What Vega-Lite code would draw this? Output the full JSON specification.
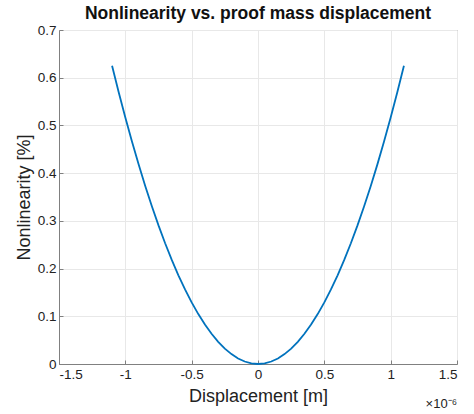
{
  "$schema": "https://vega.github.io/schema/vega-lite/v6.json",
  "width": 398,
  "height": 334,
  "autosize": "none",
  "padding": {"left": 59, "top": 30, "right": 17, "bottom": 50},
  "background": "white",
  "config": {
    "font": "Liberation Sans",
    "view": {"stroke": "#808080", "strokeWidth": 1},
    "axis": {
      "domainColor": "#808080",
      "tickColor": "#808080",
      "gridColor": "#e8e8e8",
      "labelColor": "#222222",
      "titleColor": "#222222",
      "labelFontSize": 13.5,
      "titleFontSize": 18,
      "titleFontWeight": "normal",
      "tickSize": -4,
      "labelPadding": 7
    }
  },
  "title": {
    "text": "Nonlinearity vs. proof mass displacement",
    "fontSize": 17.5,
    "fontWeight": "bold",
    "color": "#111111",
    "offset": 1
  },
  "data": {
    "values": [
      {"Displacement": -1.1, "Nonlinearity": 0.625},
      {"Displacement": -1.05, "Nonlinearity": 0.5694},
      {"Displacement": -1.0, "Nonlinearity": 0.5165},
      {"Displacement": -0.95, "Nonlinearity": 0.4661},
      {"Displacement": -0.9, "Nonlinearity": 0.4184},
      {"Displacement": -0.85, "Nonlinearity": 0.3732},
      {"Displacement": -0.8, "Nonlinearity": 0.3306},
      {"Displacement": -0.75, "Nonlinearity": 0.2905},
      {"Displacement": -0.7, "Nonlinearity": 0.2531},
      {"Displacement": -0.65, "Nonlinearity": 0.2182},
      {"Displacement": -0.6, "Nonlinearity": 0.1859},
      {"Displacement": -0.55, "Nonlinearity": 0.1562},
      {"Displacement": -0.5, "Nonlinearity": 0.1291},
      {"Displacement": -0.45, "Nonlinearity": 0.1046},
      {"Displacement": -0.4, "Nonlinearity": 0.0826},
      {"Displacement": -0.35, "Nonlinearity": 0.0633},
      {"Displacement": -0.3, "Nonlinearity": 0.0465},
      {"Displacement": -0.25, "Nonlinearity": 0.0323},
      {"Displacement": -0.2, "Nonlinearity": 0.0207},
      {"Displacement": -0.15, "Nonlinearity": 0.0116},
      {"Displacement": -0.1, "Nonlinearity": 0.0052},
      {"Displacement": -0.05, "Nonlinearity": 0.0013},
      {"Displacement": 0.0, "Nonlinearity": 0.0},
      {"Displacement": 0.05, "Nonlinearity": 0.0013},
      {"Displacement": 0.1, "Nonlinearity": 0.0052},
      {"Displacement": 0.15, "Nonlinearity": 0.0116},
      {"Displacement": 0.2, "Nonlinearity": 0.0207},
      {"Displacement": 0.25, "Nonlinearity": 0.0323},
      {"Displacement": 0.3, "Nonlinearity": 0.0465},
      {"Displacement": 0.35, "Nonlinearity": 0.0633},
      {"Displacement": 0.4, "Nonlinearity": 0.0826},
      {"Displacement": 0.45, "Nonlinearity": 0.1046},
      {"Displacement": 0.5, "Nonlinearity": 0.1291},
      {"Displacement": 0.55, "Nonlinearity": 0.1562},
      {"Displacement": 0.6, "Nonlinearity": 0.1859},
      {"Displacement": 0.65, "Nonlinearity": 0.2182},
      {"Displacement": 0.7, "Nonlinearity": 0.2531},
      {"Displacement": 0.75, "Nonlinearity": 0.2905},
      {"Displacement": 0.8, "Nonlinearity": 0.3306},
      {"Displacement": 0.85, "Nonlinearity": 0.3732},
      {"Displacement": 0.9, "Nonlinearity": 0.4184},
      {"Displacement": 0.95, "Nonlinearity": 0.4661},
      {"Displacement": 1.0, "Nonlinearity": 0.5165},
      {"Displacement": 1.05, "Nonlinearity": 0.5694},
      {"Displacement": 1.1, "Nonlinearity": 0.625}
    ]
  },
  "layer": [
    {
      "mark": {"type": "line", "color": "#0072BD", "strokeWidth": 1.8},
      "encoding": {
        "x": {
          "field": "Displacement",
          "type": "quantitative",
          "scale": {"domain": [-1.5, 1.5], "nice": false},
          "axis": {
            "values": [-1.5, -1, -0.5, 0, 0.5, 1, 1.5],
            "labelExpr": "replace(format(datum.value, '.1~f'), '\u2212', '-')",
            "title": "Displacement [m]",
            "titlePadding": 7
          }
        },
        "y": {
          "field": "Nonlinearity",
          "type": "quantitative",
          "scale": {"domain": [0, 0.7], "nice": false},
          "axis": {
            "values": [0, 0.1, 0.2, 0.3, 0.4, 0.5, 0.6, 0.7],
            "labelExpr": "format(datum.value, '.1~f')",
            "title": "Nonlinearity [%]",
            "titlePadding": 4
          }
        }
      }
    },
    {
      "data": {"values": [{"label": "\u00d710\u207b\u2076"}]},
      "mark": {"type": "text", "align": "right", "baseline": "middle", "fontSize": 13, "color": "#222222", "dy": 40},
      "encoding": {
        "x": {"datum": 1.5, "type": "quantitative"},
        "y": {"datum": 0, "type": "quantitative"},
        "text": {"field": "label"}
      }
    }
  ]
}
